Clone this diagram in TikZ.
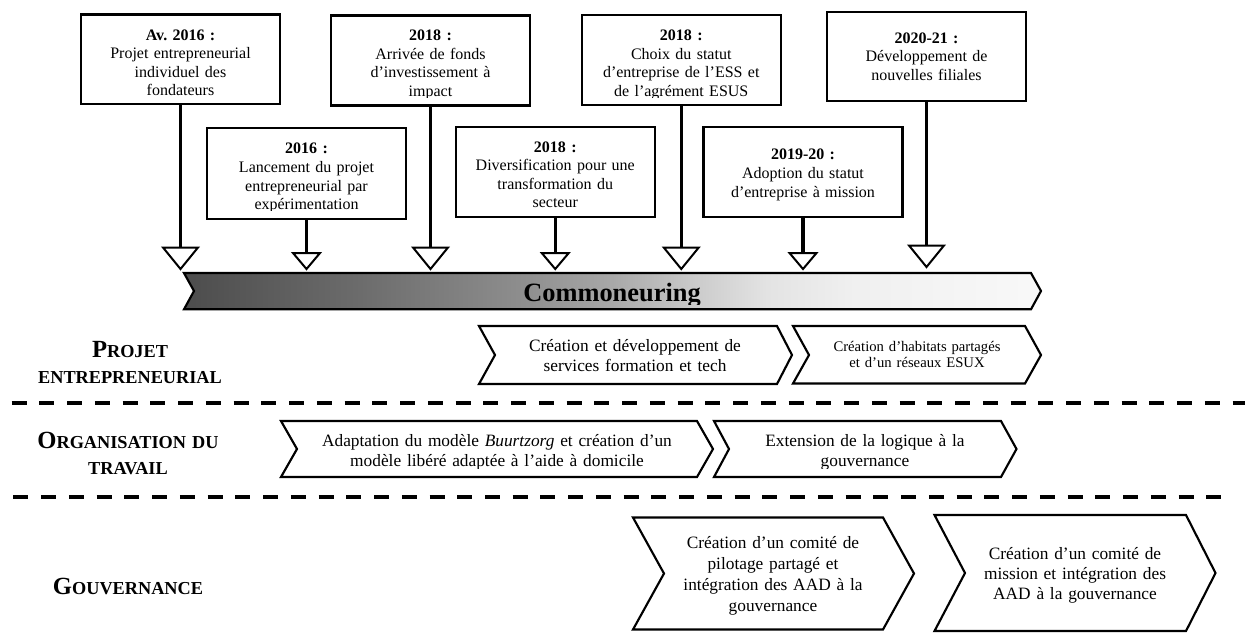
\documentclass[tikz,border=0pt]{standalone}
\usepackage{fontspec}
\setmainfont{Liberation Serif}
\usetikzlibrary{calc}
\pgfdeclarehorizontalshading{barshade}{100bp}{rgb(0bp)=(.30,.30,.30); rgb(25bp)=(.30,.30,.30); rgb(35bp)=(.42,.42,.42); rgb(45bp)=(.56,.56,.56); rgb(50bp)=(.66,.66,.66); rgb(55bp)=(.80,.80,.80); rgb(59bp)=(.89,.89,.89); rgb(64bp)=(.94,.94,.94); rgb(75bp)=(.975,.975,.975); rgb(100bp)=(.975,.975,.975)}
\newcommand\myTopStrut{\rule{0pt}{9pt}}
\newcommand\myLblStrut{\rule{0pt}{14pt}}
\newcommand\lblsc[2]{{\fontsize{18.5pt}{19.5pt}\selectfont #1}{\fontsize{13.7pt}{19.5pt}\selectfont #2}}
\frenchspacing
\begin{document}
\begin{tikzpicture}[x=0.75pt,y=-0.75pt,
  tbox/.style={draw, line width=1.6pt, fill=white, minimum width=149.25pt, inner sep=0pt},
  btext/.style={anchor=north, inner sep=0pt, text width=150pt, align=center, font=\fontsize{12pt}{13.9pt}\selectfont},
  stem/.style={line width=2.6pt},
  tri/.style={draw, line width=1.5pt, fill=white, line join=miter},
  chev/.style={draw, line width=1.6pt, line join=miter, fill=white},
  ctext/.style={anchor=north, inner sep=0pt, align=center, font=\fontsize{13pt}{15.3pt}\selectfont},
  lbl/.style={anchor=north, inner sep=0pt, text width=200pt, align=center, font=\bfseries\fontsize{13.7pt}{19.5pt}\selectfont},
  lblone/.style={anchor=base, inner sep=0pt, font=\bfseries\fontsize{13.7pt}{19.5pt}\selectfont},
  sep/.style={line width=3pt, dash pattern=on 11.25pt off 9.56pt},
]
\useasboundingbox (0,0) rectangle (1245,633);
\fill[white] (0,0) rectangle (1245,633);

% ---------- event boxes ----------
\node[tbox, minimum height=67.13pt] (bA) at (180.5,59.25) {};
\node[tbox, minimum height=68.25pt] (bB) at (306.5,173.5) {};
\node[tbox, minimum height=67.5pt] (bC) at (430.5,60.5) {};
\node[tbox, minimum height=67.5pt] (bD) at (555.25,172) {};
\node[tbox, minimum height=67.5pt] (bE) at (681.25,60) {};
\node[tbox, minimum height=67.5pt] (bF) at (803,172) {};
\node[tbox, minimum height=66.75pt] (bG) at (926.5,56.5) {};

\begin{scope}
  \clip (82,15) rectangle (279,97);
  \node[btext] (xA) at (180.5,28) {\myTopStrut\textbf{Av. 2016 :}\\Projet entrepreneurial\\individuel des\\fondateurs};
\end{scope}
\begin{scope}
  \clip (208,129) rectangle (405,210.5);
  \node[btext] (xB) at (306.5,141.7) {\myTopStrut\textbf{2016 :}\\Lancement du projet\\entrepreneurial par\\expérimentation};
\end{scope}
\begin{scope}
  \clip (332,16) rectangle (529,97);
  \node[btext] (xC) at (430.5,28.5) {\myTopStrut\textbf{2018 :}\\Arrivée de fonds\\d’investissement à\\impact};
\end{scope}
\begin{scope}
  \clip (456,128) rectangle (654,210);
  \node[btext] (xD) at (555.25,140.1) {\myTopStrut\textbf{2018 :}\\Diversification pour une\\transformation du\\secteur};
\end{scope}
\begin{scope}
  \clip (582,16) rectangle (780,97);
  \node[btext] (xE) at (681.25,28.5) {\myTopStrut\textbf{2018 :}\\Choix du statut\\d’entreprise de l’ESS et\\de l’agrément ESUS};
\end{scope}
\begin{scope}
  \clip (704,128) rectangle (902,210);
  \node[btext] (xF) at (803,147.7) {\myTopStrut\textbf{2019-20 :}\\Adoption du statut\\d’entreprise à mission};
\end{scope}
\begin{scope}
  \clip (828,13) rectangle (1025,94);
  \node[btext] (xG) at (926.5,31.1) {\myTopStrut\textbf{2020-21 :}\\Développement de\\nouvelles filiales};
\end{scope}

% ---------- stems and triangles ----------
\coordinate (tA) at (180.5,247.5);
\coordinate (tB) at (306.5,253);
\coordinate (tC) at (430.5,247.5);
\coordinate (tD) at (555.25,253);
\coordinate (tE) at (681.25,247.5);
\coordinate (tF) at (803,253);
\coordinate (tG) at (926.5,245.5);
\foreach \b/\t in {bA/tA,bB/tB,bC/tC,bD/tD,bE/tE,bF/tF,bG/tG}
  \draw[stem] (\b.south) -- (\t);
\foreach \t in {tA,tC,tE,tG}
  \draw[tri] (\t) +(-17.5,0) -- +(17.5,0) -- +(0,21.5) -- cycle;
\foreach \t in {tB,tD,tF}
  \draw[tri] (\t) +(-13.5,0) -- +(13.5,0) -- +(0,16) -- cycle;

% ---------- timeline bar ----------
\shadedraw[shading=barshade, line width=1.6pt, line join=miter]
  (184,273) -- (1031,273) -- (1041,291) -- (1031,309.3) -- (184,309.3) -- (194,291) -- cycle;
\begin{scope}
  \clip (190,275) rectangle (1030,304.5);
  \node[anchor=base, inner sep=0pt, font=\bfseries\fontsize{19.8pt}{22pt}\selectfont] (comm) at (612,301.7) {Commoneuring};
\end{scope}

% ---------- separators ----------
\draw[sep] (11.7,402.7) -- (1252,402.7);
\draw[sep] (13.3,497.3) -- (1233,497.3);

% ---------- row labels ----------
\node[lbl] (lp) at (130,338.3) {\myLblStrut\lblsc{P}{ROJET}\\\lblsc{}{ENTREPRENEURIAL}};
\node[lbl] (lo) at (128,429.3) {\myLblStrut\lblsc{O}{RGANISATION DU}\\\lblsc{}{TRAVAIL}};
\node[lblone] (lg) at (128,594.3) {\lblsc{G}{OUVERNANCE}};

% ---------- chevrons: projet entrepreneurial ----------
\draw[chev] (479,326) -- (777,326) -- (792,355) -- (777,384) -- (479,384) -- (495,355) -- cycle;
\node[ctext, text width=250pt] (cdev) at (635,339) {\myTopStrut Création et développement de\\services formation et tech};
\draw[chev] (793,326) -- (1025,326) -- (1041,355) -- (1025,383.5) -- (793,383.5) -- (809,355) -- cycle;
\node[ctext, text width=200pt, font=\fontsize{11pt}{12pt}\selectfont] (chab) at (917,339.5) {\myTopStrut Création d’habitats partagés\\et d’un réseaux ESUX};

% ---------- chevrons: organisation du travail ----------
\draw[chev] (281,421) -- (697,421) -- (713,449) -- (697,477) -- (281,477) -- (297,449) -- cycle;
\draw[chev] (714,421) -- (1001,421) -- (1016.5,449) -- (1001,477) -- (714,477) -- (729,449) -- cycle;
\begin{scope}
  \clip (280,420) rectangle (1020,468);
  \node[ctext, text width=330pt] (cada) at (497,434) {\myTopStrut Adaptation du modèle \textit{Buurtzorg} et création d’un\\modèle libéré adaptée à l’aide à domicile};
  \node[ctext, text width=220pt] (cext) at (865,434) {\myTopStrut Extension de la logique à la\\gouvernance};
\end{scope}

% ---------- chevrons: gouvernance ----------
\draw[chev] (633,517.5) -- (883,517.5) -- (914,573.5) -- (883,629.5) -- (633,629.5) -- (664,573.5) -- cycle;
\node[ctext, text width=200pt, font=\fontsize{13pt}{15.8pt}\selectfont] (cpil) at (773,536) {\myTopStrut Création d’un comité de\\pilotage partagé et\\intégration des AAD à la\\gouvernance};
\draw[chev] (934.5,515) -- (1186,515) -- (1215.5,573) -- (1186,631) -- (934.5,631) -- (965,573) -- cycle;
\node[ctext, text width=200pt, font=\fontsize{13pt}{15pt}\selectfont] (cmis) at (1075,547.5) {\myTopStrut Création d’un comité de\\mission et intégration des\\AAD à la gouvernance};
\end{tikzpicture}
\end{document}
